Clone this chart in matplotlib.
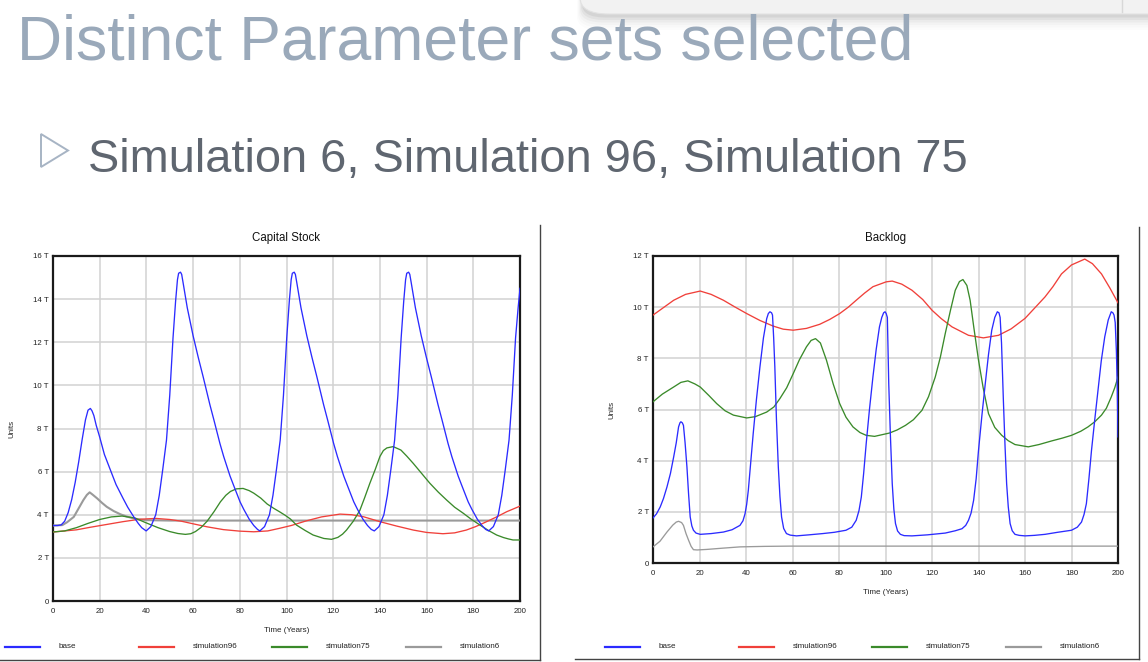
import matplotlib
matplotlib.use("Agg")
import matplotlib.pyplot as plt
from matplotlib.lines import Line2D
from matplotlib.patches import Polygon, FancyBboxPatch

plt.rcParams['font.family'] = ['Liberation Sans', 'DejaVu Sans']

# ---------------- data ----------------
title_text = "Distinct Parameter sets selected"
subtitle_text = "Simulation 6, Simulation 96, Simulation 75"
series_names = ["base", "simulation96", "simulation75", "simulation6"]
series_colors = ["#2B2BFF", "#F0403A", "#3A8A2A", "#9A9A9A"]

# Capital Stock (T units)
cap_base_t = [0, 2, 3.5, 5, 6.5, 8, 9.5, 11, 12.5, 13.9, 15, 16, 16.7, 17.5, 18.5, 20, 22, 24.6, 27, 30,
              32, 34.6, 36.5, 38, 39.9,
              41.9, 44.0, 45.5, 47.0, 48.6, 50.0, 51.4, 52.5, 53.3, 53.8, 54.6, 55.1, 55.7, 57.5, 60.0,
              62.2, 64.3, 67.2, 68.9, 71.5, 73.1, 75.8, 77.4, 80.1, 81.7, 84.0, 86.0, 87.6, 88.6,
              90.6, 92.7, 94.2, 95.7, 97.3, 98.7, 100.1, 101.2, 102.0, 102.5, 103.3, 103.8, 104.4, 106.2,
              108.7, 110.9, 113.0, 115.9, 117.6, 120.2, 121.8, 124.5, 126.1, 128.8, 130.4, 132.7, 134.7,
              136.3, 137.6,
              139.6, 141.7, 143.2, 144.7, 146.3, 147.7, 149.1, 150.2, 151.0, 151.5, 152.3, 152.8, 153.4,
              155.2, 157.7, 159.9, 162.0, 164.9, 166.6, 169.2, 170.8, 173.5, 175.1, 177.8, 179.4, 181.7,
              183.7, 185.3, 186.6,
              188.6, 190.7, 192.2, 193.7, 195.3, 196.7, 198.1, 199.2, 200]
cap_base_v = [3.5, 3.5, 3.53, 3.7, 4.1, 4.7, 5.5, 6.45, 7.5, 8.4, 8.85, 8.93, 8.82, 8.6, 8.15, 7.6, 6.8,
              6.07, 5.4, 4.76, 4.35, 3.9, 3.6, 3.4, 3.25,
              3.45, 4.0, 4.9, 6.1, 7.46, 9.54, 12.2, 13.9, 14.9, 15.2, 15.25, 15.15, 14.77, 13.6, 12.3,
              11.3, 10.4, 9.1, 8.4, 7.3, 6.7, 5.8, 5.35, 4.6, 4.25, 3.8, 3.5, 3.32, 3.25,
              3.45, 4.0, 4.9, 6.1, 7.46, 9.54, 12.2, 13.9, 14.9, 15.2, 15.25, 15.15, 14.77, 13.6,
              12.3, 11.3, 10.4, 9.1, 8.4, 7.3, 6.7, 5.8, 5.35, 4.6, 4.25, 3.8, 3.5,
              3.32, 3.25,
              3.45, 4.0, 4.9, 6.1, 7.46, 9.54, 12.2, 13.9, 14.9, 15.2, 15.25, 15.15, 14.77,
              13.6, 12.3, 11.3, 10.4, 9.1, 8.4, 7.3, 6.7, 5.8, 5.35, 4.6, 4.25, 3.8,
              3.5, 3.32, 3.25,
              3.45, 4.0, 4.9, 6.1, 7.46, 9.54, 12.2, 13.6, 14.5]

cap_s96_t = [0, 10, 16, 23, 30, 37, 44, 50, 55, 60, 66, 73, 80, 86, 92, 97, 102, 108.6, 115, 122.9,
             128, 132.9, 140, 147, 154.3, 160, 167, 172, 177, 181, 185.7, 190, 194.3, 200]
cap_s96_v = [3.2, 3.3, 3.42, 3.55, 3.68, 3.79, 3.83, 3.78, 3.7, 3.58, 3.44, 3.31, 3.24, 3.21, 3.25, 3.37,
             3.5, 3.72, 3.9, 4.03, 4.0, 3.91, 3.68, 3.48, 3.29, 3.18, 3.12, 3.16, 3.29, 3.45, 3.68, 3.9,
             4.14, 4.4]

cap_s75_t = [0, 5, 10, 15, 20, 25, 29.6, 35, 40, 45, 50, 53.5, 56.7, 59, 61, 63.5, 66, 69, 71.7, 74,
             76, 78.5, 81.4, 84, 86, 89, 91.7, 94.5, 97, 99.5, 101.7, 104.3, 108, 111.4, 116, 119.3, 122,
             124, 125.7, 128.6, 131.4, 133.5, 135.7, 138, 140, 141.5, 143, 145.7, 149, 151.5, 154.3,
             158, 161.4, 165, 168.6, 172, 175.7, 179, 182.9, 186.5, 190, 193, 195, 197, 200]
cap_s75_v = [3.2, 3.25, 3.4, 3.6, 3.78, 3.9, 3.94, 3.85, 3.62, 3.4, 3.22, 3.13, 3.09, 3.12, 3.22, 3.42,
             3.7, 4.15, 4.6, 4.9, 5.08, 5.2, 5.22, 5.12, 5.0, 4.77, 4.5, 4.3, 4.14, 3.97, 3.8, 3.52, 3.27,
             3.06, 2.9, 2.86, 2.95, 3.1, 3.29, 3.7, 4.2, 4.8, 5.46, 6.1, 6.7, 6.98, 7.1, 7.16, 7.0, 6.72,
             6.38, 5.9, 5.46, 5.05, 4.68, 4.35, 4.07, 3.8, 3.52, 3.27, 3.06, 2.94, 2.88, 2.83, 2.83]

cap_s6_t = [0, 4, 6, 8.9, 11, 13, 14.5, 15.7, 17, 18.9, 21, 23, 26, 28.9, 31.5, 34.6, 37, 40, 50, 200]
cap_s6_v = [3.5, 3.52, 3.65, 3.9, 4.3, 4.68, 4.92, 5.04, 4.93, 4.76, 4.55, 4.37, 4.17, 4.02, 3.92,
            3.83, 3.78, 3.75, 3.73, 3.73]

# Backlog (T units)
bl_base_t = [0, 1.5, 3.1, 4.5, 6, 7.5, 8.9, 10, 11, 11.6, 12, 12.6, 13.1, 13.8, 14.6, 15.3, 16, 16.7,
             17.4, 18.5, 20.3, 25, 30.3, 34, 37.4, 38.7, 39.6, 40.3, 41, 42, 43.1, 44.5, 46, 47.5, 48.9,
             49.6, 50.3, 51.0, 51.4, 51.9, 52.4, 53.1, 53.9, 54.6, 55.3, 56.2, 57.4, 59, 61.7, 67, 73,
             78, 83, 85.5, 87.4, 88.6, 89.6, 90.6, 91.7, 93.1, 94.6, 96, 97.4, 98.4, 99.2, 99.8,
             100.3, 100.8, 101.4, 102.1, 102.9, 103.6, 104.3, 105.2, 106.4, 108, 111.4, 118, 125.7,
             130, 132.9, 134.5, 135.7, 136.8, 137.9, 139, 140, 141.5, 142.9, 144.3, 145.7, 147, 148.1,
             148.8, 149.3, 149.9, 150.7, 151.4, 152.1, 152.8, 153.6, 154.5, 155.7, 157.5, 160, 164,
             168.6, 174, 180, 182.5, 184.3, 185.4, 186.4, 187.5, 188.6, 190, 191.4, 192.8, 194.3,
             195.8, 197.1, 197.8, 198.3, 198.8, 199.3, 199.7, 200]
bl_base_v = [1.76, 1.92, 2.19, 2.52, 2.97, 3.5, 4.15, 4.7, 5.32, 5.48, 5.52, 5.48, 5.38, 4.7, 3.75,
             2.7, 1.8, 1.45, 1.28, 1.17, 1.12, 1.15, 1.21, 1.3, 1.47, 1.65, 1.93, 2.3, 2.84, 3.9, 5.06,
             6.4, 7.67, 8.8, 9.55, 9.75, 9.82, 9.78, 9.69, 8.8, 7.67, 5.6, 3.75, 2.6, 1.8, 1.35, 1.15,
             1.09, 1.06, 1.1, 1.15, 1.2, 1.28, 1.4, 1.67, 2.05, 2.58, 3.5, 4.67, 6.0, 7.28, 8.35, 9.23,
             9.6, 9.78, 9.82, 9.75, 9.6, 7.0, 5.0, 3.1, 2.1, 1.54, 1.25, 1.12, 1.07, 1.06, 1.1, 1.17,
             1.26, 1.34, 1.47, 1.67, 1.95, 2.45, 3.3, 4.4, 5.8, 7.0, 8.15, 9.1, 9.6, 9.82,
             9.78, 9.6, 8.6, 6.36, 4.6, 3.1, 2.2, 1.54, 1.26, 1.12, 1.08, 1.06, 1.08,
             1.12, 1.2, 1.28, 1.4, 1.6, 1.9, 2.32, 3.3, 4.4, 5.6, 6.75, 7.9, 8.84,
             9.5, 9.82, 9.78, 9.69, 9.4, 8.3, 6.8, 4.93]

bl_s96_t = [0, 4, 8.9, 14, 20.3, 25, 30.3, 35, 40.3, 46, 51.7, 56, 60.3, 66, 71.7, 76, 80.3, 84, 87.4,
            91, 94.6, 100.3, 102.9, 107, 111.4, 116, 120, 124, 128.6, 135.7, 142.1, 148.6, 154, 160,
            164, 168.6, 172, 175.7, 180, 185.7, 189, 192.9, 196.5, 200]
bl_s96_v = [9.69, 9.95, 10.27, 10.5, 10.63, 10.5, 10.27, 10.02, 9.75, 9.48, 9.26, 9.14, 9.1, 9.17, 9.33,
            9.52, 9.75, 10.0, 10.27, 10.55, 10.8, 10.99, 11.02, 10.9, 10.66, 10.3, 9.88, 9.55, 9.23,
            8.9, 8.8, 8.9, 9.15, 9.56, 9.95, 10.4, 10.8, 11.3, 11.65, 11.88, 11.7, 11.3, 10.75, 10.17]

bl_s75_t = [0, 4, 8.9, 12, 15, 18, 20.3, 24, 27.4, 31, 34.6, 40.3, 44, 48.9, 52, 54.6, 57.5, 60.3, 63,
            66, 68, 69.9, 72, 74.6, 77.5, 80.3, 83, 86, 89, 91.7, 95.3, 101.7, 105, 108.6, 112, 115.7,
            118.5, 121.4, 123.6, 125.7, 128, 130, 131.8, 133.3, 135, 136.4, 138, 140, 142, 144.3, 147,
            150, 152.8, 155.7, 161.4, 166, 171.4, 176, 180, 184, 187.1, 190, 192.9, 195, 197.1, 198.6,
            200]
bl_s75_v = [6.3, 6.6, 6.88, 7.06, 7.12, 7.0, 6.88, 6.55, 6.23, 5.95, 5.78, 5.67, 5.72, 5.9, 6.1, 6.43,
            6.85, 7.4, 7.95, 8.45, 8.7, 8.77, 8.6, 7.93, 7.0, 6.23, 5.7, 5.32, 5.1, 4.99, 4.95, 5.08, 5.2,
            5.38, 5.6, 5.97, 6.5, 7.27, 8.05, 8.97, 9.9, 10.66, 11.0, 11.08, 10.85, 10.27, 9.2, 7.93,
            6.85, 5.84, 5.3, 4.99, 4.78, 4.63, 4.54, 4.63, 4.77, 4.88, 4.99, 5.15, 5.32, 5.52, 5.78,
            6.05, 6.49, 6.85, 7.27]

bl_s6_t = [0, 3, 6, 8.5, 10, 11, 12.3, 13.1, 14.2, 15.3, 16.4, 17.4, 19, 23, 30, 37.4, 48, 58.9, 200]
bl_s6_v = [0.63, 0.85, 1.21, 1.48, 1.6, 1.63, 1.58, 1.47, 1.15, 0.89, 0.65, 0.52, 0.51, 0.53, 0.58,
           0.63, 0.65, 0.66, 0.66]

x_ticks = list(range(0, 201, 20))
cap_yticks = list(range(0, 17, 2))
bl_yticks = list(range(0, 13, 2))

# ---------------- layout ----------------
W, H = 1148, 662
fig = plt.figure(figsize=(W / 100, H / 100), dpi=100)
fig.patch.set_facecolor("white")


def fx(x):
    return x / W


def fy(y):
    return 1 - y / H


def ylab(v):
    return "0" if v == 0 else f"{v} T"


# window chrome at the top right (shadow + rounded bar)
for i, a in enumerate([0.05, 0.04, 0.03, 0.02, 0.015, 0.01]):
    sh = FancyBboxPatch((fx(582 - i), fy(15 + 2.5 * (i + 1))), fx(700), fy(0) - fy(40),
                        boxstyle="round,pad=0,rounding_size=0.02", transform=fig.transFigure,
                        facecolor="black", edgecolor="none", alpha=a)
    fig.add_artist(sh)
bar = FancyBboxPatch((fx(580), fy(14)), fx(700), fy(0) - fy(40),
                     boxstyle="round,pad=0,rounding_size=0.025", transform=fig.transFigure,
                     facecolor="#F2F2F2", edgecolor="#E2E2E2", linewidth=0.8)
fig.add_artist(bar)
fig.add_artist(Line2D([fx(1122), fx(1122)], [fy(0), fy(12)], transform=fig.transFigure,
                      color="#D8D8D8", lw=1))

# slide texts
fig.text(fx(17), fy(60), title_text, fontsize=45, color="#9AA9BA", va="baseline", ha="left")
fig.add_artist(Polygon([(fx(41), fy(134)), (fx(41), fy(167)), (fx(68), fy(150.5))], closed=True,
                       transform=fig.transFigure, facecolor="none", edgecolor="#A7B4C4", lw=1.4))
fig.text(fx(88), fy(172), subtitle_text, fontsize=33.8, color="#5F6670", va="baseline", ha="left")

# panel borders
for xs, ys in [([540, 540], [225, 660]), ([0, 540], [660, 660]),
               ([1139, 1139], [227, 659]), ([575, 1139], [659, 659])]:
    fig.add_artist(Line2D([fx(xs[0]), fx(xs[1])], [fy(ys[0]), fy(ys[1])], transform=fig.transFigure,
                          color="#444444", lw=1.0))

panels = [
    dict(rect=(53, 256, 520, 601), title="Capital Stock", yticks=cap_yticks, ymax=16,
         series=[(cap_base_t, cap_base_v), (cap_s96_t, cap_s96_v), (cap_s75_t, cap_s75_v),
                 (cap_s6_t, cap_s6_v)],
         leg_x0=5, leg_y=647),
    dict(rect=(653, 256, 1118, 563), title="Backlog", yticks=bl_yticks, ymax=12,
         series=[(bl_base_t, bl_base_v), (bl_s96_t, bl_s96_v), (bl_s75_t, bl_s75_v),
                 (bl_s6_t, bl_s6_v)],
         leg_x0=605, leg_y=647),
]

for p in panels:
    x0, y0, x1, y1 = p["rect"]
    ax = fig.add_axes([fx(x0), fy(y1), (x1 - x0) / W, (y1 - y0) / H])
    ax.set_xlim(0, 200)
    ax.set_ylim(0, p["ymax"])
    ax.set_xticks(x_ticks)
    ax.set_xticklabels([str(v) for v in x_ticks])
    ax.set_yticks(p["yticks"])
    ax.set_yticklabels([ylab(v) for v in p["yticks"]])
    ax.tick_params(length=0, labelsize=5.7, labelcolor="#222222")
    ax.tick_params(axis="y", pad=3)
    ax.tick_params(axis="x", pad=5)
    ax.grid(True, color="#D2D2D2", lw=1.1)
    ax.set_axisbelow(True)
    for s in ax.spines.values():
        s.set_linewidth(1.6)
        s.set_color("#1A1A1A")
    hpx = y1 - y0
    wpx = x1 - x0
    ax.text(0.5, 1 + 18 / hpx, p["title"], transform=ax.transAxes, ha="center", va="center",
            fontsize=8.3, color="#111111")
    ax.set_xlabel("Time (Years)", fontsize=5.8, color="#222222")
    ax.xaxis.set_label_coords(0.5, -30 / hpx)
    ax.set_ylabel("Units", fontsize=5.8, color="#222222")
    ax.yaxis.set_label_coords(-41 / wpx, 0.5)
    ax.xaxis.label.set_va("center")
    ax.yaxis.label.set_va("center")
    order = [3, 1, 2, 0]
    for idx in order:
        t, v = p["series"][idx]
        ax.plot(t, v, color=series_colors[idx], lw=1.5 if idx == 3 and p["ymax"] == 16 else 0.95,
                zorder=3 + (idx == 0), solid_joinstyle="round")
    # legend row
    for i, name in enumerate(series_names):
        lx = p["leg_x0"] + i * 133.5
        fig.add_artist(Line2D([fx(lx), fx(lx + 35)], [fy(p["leg_y"]), fy(p["leg_y"])],
                              transform=fig.transFigure, color=series_colors[i], lw=1.6))
        fig.text(fx(lx + 54), fy(p["leg_y"]), name, fontsize=5.8, color="#222222",
                 ha="left", va="center")

fig.savefig("out.png", dpi=100)
